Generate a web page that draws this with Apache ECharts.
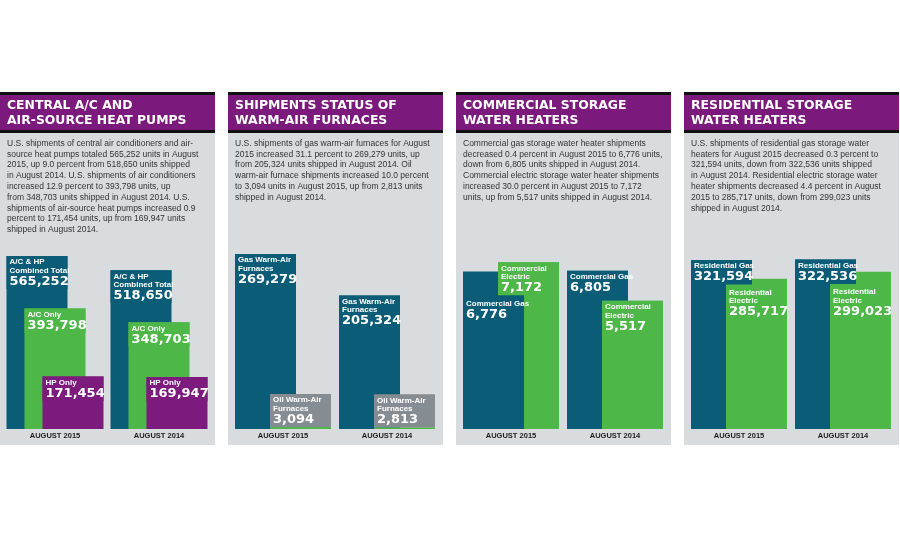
<!DOCTYPE html>
<html>
<head>
<meta charset="utf-8">
<script src="https://cdn.jsdelivr.net/npm/echarts@6/dist/echarts.min.js"></script>
<style>
html,body{margin:0;padding:0;background:#fff;}
#c{width:900px;height:550px;}
</style>
</head>
<body>
<div id="c"></div>
<script>
// ---------- DATA ----------
const years = ['AUGUST 2015', 'AUGUST 2014'];

const acTotal = [565252, 518650];
const acOnly = [393798, 348703];
const hpOnly = [171454, 169947];

const gasFurnace = [269279, 205324];
const oilFurnace = [3094, 2813];

const commGas = [6776, 6805];
const commElec = [7172, 5517];

const resGas = [321594, 322536];
const resElec = [285717, 299023];

const headers = [
  'CENTRAL A/C AND\nAIR-SOURCE HEAT PUMPS',
  'SHIPMENTS STATUS OF\nWARM-AIR FURNACES',
  'COMMERCIAL STORAGE\nWATER HEATERS',
  'RESIDENTIAL STORAGE\nWATER HEATERS'
];

const bodies = [
  ['U.S. shipments of central air conditioners and air-',
   'source heat pumps totaled 565,252 units in August',
   '2015, up 9.0 percent from 518,650 units shipped',
   'in August 2014. U.S. shipments of air conditioners',
   'increased 12.9 percent to 393,798 units, up',
   'from 348,703 units shipped in August 2014. U.S.',
   'shipments of air-source heat pumps increased 0.9',
   'percent to 171,454 units, up from 169,947 units',
   'shipped in August 2014.'],
  ['U.S. shipments of gas warm-air furnaces for August',
   '2015 increased 31.1 percent to 269,279 units, up',
   'from 205,324 units shipped in August 2014. Oil',
   'warm-air furnace shipments increased 10.0 percent',
   'to 3,094 units in August 2015, up from 2,813 units',
   'shipped in August 2014.'],
  ['Commercial gas storage water heater shipments',
   'decreased 0.4 percent in August 2015 to 6,776 units,',
   'down from 6,805 units shipped in August 2014.',
   'Commercial electric storage water heater shipments',
   'increased 30.0 percent in August 2015 to 7,172',
   'units, up from 5,517 units shipped in August 2014.'],
  ['U.S. shipments of residential gas storage water',
   'heaters for August 2015 decreased 0.3 percent to',
   '321,594 units, down from 322,536 units shipped',
   'in August 2014. Residential electric storage water',
   'heater shipments decreased 4.4 percent in August',
   '2015 to 285,717 units, down from 299,023 units',
   'shipped in August 2014.']
];

// ---------- STYLE ----------
const TEAL = '#0b5c76', GREEN = '#4db748', PURPLE = '#7c1b7d', OILBOX = '#868d92';
const HEAD = '#7b1a7c', PANEL = '#d9dcdf';
const FONT = '"Liberation Sans", Arial, sans-serif';
const HEAVY = '"DejaVu Sans", "Liberation Sans", sans-serif';
const panelX = [0, 228, 456, 684];
const panelW = 215;
const yMax = [600000, 300000, 8000, 350000];
const gridTop = [245.4, 234, 243, 245];
const BAR_W = 61;
const NAME_LH = 8.5, VAL_LH = 13, PAD_T = 2, PAD_B = 1, LABEL_GAP = 2;

const panels = [
  { offset: 18, slots: 3, series: [
    { label: 'A/C & HP\nCombined Total', values: acTotal, color: TEAL },
    { label: 'A/C Only', values: acOnly, color: GREEN },
    { label: 'HP Only', values: hpOnly, color: PURPLE }
  ]},
  { offset: 35, slots: 2, series: [
    { label: 'Gas Warm-Air\nFurnaces', values: gasFurnace, color: TEAL },
    { label: 'Oil Warm-Air\nFurnaces', values: oilFurnace, color: GREEN, box: OILBOX }
  ]},
  { offset: 35, slots: 2, series: [
    { label: 'Commercial Gas', values: commGas, color: TEAL },
    { label: 'Commercial\nElectric', values: commElec, color: GREEN }
  ]},
  { offset: 35, slots: 2, series: [
    { label: 'Residential Gas', values: resGas, color: TEAL },
    { label: 'Residential\nElectric', values: resElec, color: GREEN }
  ]}
];

function buildItems(p) {
  const items = [];
  p.series.forEach((s, si) => {
    s.values.forEach((v, ci) => {
      items.push({ cat: ci, value: v, slot: si, color: s.color, label: s.label, box: s.box || null });
    });
  });
  items.forEach(it => {
    it.rank = items.filter(o => o.cat === it.cat && o.value > it.value).length;
  });
  items.sort((a, b) => a.cat - b.cat || b.value - a.value);
  return items;
}

const rich = {
  n: { fontFamily: FONT, fontWeight: 'bold', fontSize: 8, lineHeight: NAME_LH, fill: '#fff' },
  v: { fontFamily: HEAVY, fontWeight: 'bold', fontSize: 13, lineHeight: VAL_LH, fill: '#fff' }
};

function labelText(name, val) {
  return name.split('\n').map(l => '{n|' + l + '}').join('\n') + '\n{v|' + val.toLocaleString('en-US') + '}';
}
function labelHeight(name) {
  return PAD_T + name.split('\n').length * NAME_LH + VAL_LH + PAD_B;
}
function barX(api, d, offset, slots) {
  const groupW = BAR_W + offset * (slots - 1);
  return api.coord([d.cat, d.value])[0] - groupW / 2 + d.slot * offset;
}

function barRender(list, offset, slots) {
  return function (params, api) {
    const d = list[params.dataIndex];
    const top = api.coord([api.value(0), api.value(1)]);
    const base = api.coord([api.value(0), 0]);
    const x = barX(api, d, offset, slots);
    return { type: 'rect',
      shape: { x: x, y: top[1], width: BAR_W, height: base[1] - top[1] },
      style: { fill: d.color } };
  };
}

function labelTopOf(api, items, d) {
  if (d.box) return api.coord([d.cat, d.value])[1] - labelHeight(d.label);
  let prevBottom = -Infinity;
  for (const o of items.filter(o => o.cat === d.cat && !o.box)) {
    const oTop = api.coord([o.cat, o.value])[1];
    const lt = Math.max(oTop, prevBottom + LABEL_GAP);
    if (o === d) return lt;
    prevBottom = lt + labelHeight(o.label);
  }
  return api.coord([d.cat, d.value])[1];
}

function boxRender(items, offset, slots) {
  return function (params, api) {
    const d = items[params.dataIndex];
    const x = barX(api, d, offset, slots);
    const lt = labelTopOf(api, items, d);
    return { type: 'rect',
      shape: { x: x, y: lt, width: BAR_W, height: labelHeight(d.label) },
      style: { fill: d.box || d.color } };
  };
}

function textRender(items, offset, slots) {
  return function (params, api) {
    const d = items[params.dataIndex];
    const x = barX(api, d, offset, slots);
    const lt = labelTopOf(api, items, d);
    return { type: 'text', x: x + 3, y: lt + PAD_T,
      style: { text: labelText(d.label, d.value), rich: rich, fill: '#fff', verticalAlign: 'top', align: 'left' } };
  };
}

const grids = [], xAxes = [], yAxes = [], series = [], graphics = [];
panels.forEach((p, i) => {
  const items = buildItems(p);
  grids.push({ left: panelX[i] + 3, width: 208, top: gridTop[i], bottom: 121, containLabel: false });
  xAxes.push({
    type: 'category', gridIndex: i, data: years,
    axisLine: { show: false }, axisTick: { show: false },
    axisLabel: { margin: 3, fontFamily: FONT, fontWeight: 'bold', fontSize: 7.5, color: '#1b1b1b' }
  });
  yAxes.push({ type: 'value', gridIndex: i, min: 0, max: yMax[i], show: false, splitLine: { show: false } });

  for (let r = 0; r < p.slots; r++) {
    const layer = items.filter(it => it.rank === r);
    series.push({
      type: 'custom', xAxisIndex: i, yAxisIndex: i, clip: false, z: 2 + r, silent: true,
      data: layer.map(it => [it.cat, it.value]),
      renderItem: barRender(layer, p.offset, p.slots)
    });
  }
  series.push({
    type: 'custom', xAxisIndex: i, yAxisIndex: i, clip: false, z: 10, silent: true,
    data: items.map(it => [it.cat, it.value]),
    renderItem: boxRender(items, p.offset, p.slots)
  });
  series.push({
    type: 'custom', xAxisIndex: i, yAxisIndex: i, clip: false, z: 11, silent: true,
    data: items.map(it => [it.cat, it.value]),
    renderItem: textRender(items, p.offset, p.slots)
  });

  graphics.push({ type: 'rect', z: -10, shape: { x: panelX[i], y: 133, width: panelW, height: 312 }, style: { fill: PANEL } });
  graphics.push({ type: 'rect', z: -10, shape: { x: panelX[i], y: 92, width: panelW, height: 41 }, style: { fill: '#111' } });
  graphics.push({ type: 'rect', z: -9, shape: { x: panelX[i], y: 95, width: panelW, height: 35 }, style: { fill: HEAD } });
  graphics.push({
    type: 'text', z: -8, x: panelX[i] + 7, y: 98.5,
    style: { text: headers[i], fill: '#fff', font: 'bold 12.4px ' + HEAVY, lineHeight: 15, verticalAlign: 'top' }
  });
  graphics.push({
    type: 'text', z: -8, x: panelX[i] + 7, y: 138,
    style: { text: bodies[i].join('\n'), fill: '#333', font: '8.5px ' + FONT, lineHeight: 10.8, verticalAlign: 'top' }
  });
});

const chart = echarts.init(document.getElementById('c'), null, { renderer: 'canvas' });
chart.setOption({
  backgroundColor: '#fff',
  animation: false,
  grid: grids,
  xAxis: xAxes,
  yAxis: yAxes,
  series: series,
  graphic: graphics
});
</script>
</body>
</html>
